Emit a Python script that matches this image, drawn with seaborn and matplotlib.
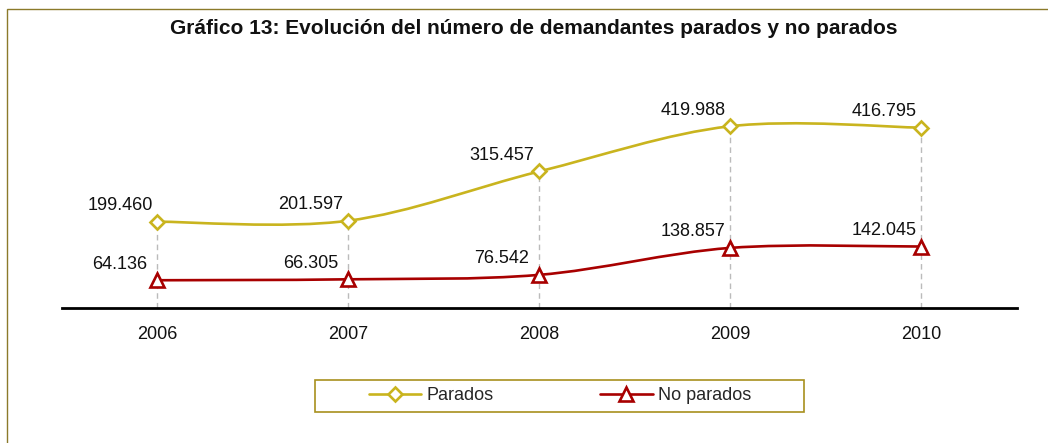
import numpy as np
import pandas as pd
import matplotlib
matplotlib.use("Agg")
import matplotlib.pyplot as plt
import seaborn as sns
from matplotlib.path import Path
from matplotlib.patches import PathPatch, Rectangle
from matplotlib.lines import Line2D

sns.set_theme(style="white")
plt.rcParams["font.family"] = ["Liberation Sans", "DejaVu Sans"]

# data
years = ["2006", "2007", "2008", "2009", "2010"]
parados = [199460, 201597, 315457, 419988, 416795]
no_parados = [64136, 66305, 76542, 138857, 142045]

col_par = "#C9B41E"
col_nop = "#A80000"


def smooth_path(xs, ys):
    # Excel-like smoothed line: Catmull-Rom segments as cubic Bezier
    pts = np.column_stack([xs, ys]).astype(float)
    ext = np.vstack([pts[0], pts, pts[-1]])
    verts = [pts[0]]
    codes = [Path.MOVETO]
    for i in range(len(pts) - 1):
        p0, p1, p2, p3 = ext[i], ext[i + 1], ext[i + 2], ext[i + 3]
        verts += [p1 + (p2 - p0) / 6, p2 - (p3 - p1) / 6, p2]
        codes += [Path.CURVE4] * 3
    return Path(verts, codes)


def fmt(v):
    return f"{v:,}".replace(",", ".")


df = pd.DataFrame({"x": np.arange(len(years)), "parados": parados, "no_parados": no_parados})

fig = plt.figure(figsize=(10.48, 4.43), dpi=100)
ax = fig.add_axes([61.5 / 1048, 135 / 443, 955 / 1048, 238 / 443])

ax.vlines(df["x"], 0, df["parados"], colors="#BBBBBB", linestyles=(0, (4, 3)), linewidth=1, zorder=1)

for col, color, marker, ms in [("parados", col_par, "D", 7.5), ("no_parados", col_nop, "^", 9.5)]:
    ax.add_patch(PathPatch(smooth_path(df["x"], df[col]), facecolor="none",
                           edgecolor=color, linewidth=1.9, zorder=2))
    sns.lineplot(data=df, x="x", y=col, ax=ax, linestyle="none", marker=marker,
                 markersize=ms, markerfacecolor="white", markeredgecolor=color,
                 markeredgewidth=1.9, color=color, zorder=3)
    for x, v in zip(df["x"], df[col]):
        ax.annotate(fmt(v), (x, v), xytext=(-37, 16), textcoords="offset pixels",
                    ha="center", va="center", fontsize=13, color="#111111")

ax.set_xlim(-0.5, len(years) - 0.5)
ax.set_ylim(0, 550000)
ax.set_xticks(df["x"])
ax.set_xticklabels(years, fontsize=13, color="#111111")
ax.set_yticks([])
ax.set_xlabel("")
ax.set_ylabel("")
ax.tick_params(axis="x", length=0, pad=13)
for s in ["top", "left", "right"]:
    ax.spines[s].set_visible(False)
ax.spines["bottom"].set_color("black")
ax.spines["bottom"].set_linewidth(2)
ax.patch.set_alpha(0)

fig.text(534 / 1048, 1 - 29 / 443, "Gráfico 13: Evolución del número de demandantes parados y no parados",
         ha="center", va="center", fontsize=15, fontweight="bold", color="#111111")

# outer frame and legend frame
fig.patches.append(Rectangle((7 / 1048, -0.1), 1.2, 1.1 - 9 / 443, transform=fig.transFigure,
                             fill=False, edgecolor="#8B7A2A", linewidth=1))
fig.patches.append(Rectangle((315 / 1048, 31 / 443), 489 / 1048, 32 / 443, transform=fig.transFigure,
                             fill=False, edgecolor="#A8901E", linewidth=1.2))

handles = [
    Line2D([], [], color=col_par, lw=1.9, marker="D", ms=7.5, mfc="white", mec=col_par, mew=1.9),
    Line2D([], [], color=col_nop, lw=1.9, marker="^", ms=9.5, mfc="white", mec=col_nop, mew=1.9),
]
fig.legend(handles, ["Parados", "No parados"], loc="center", bbox_to_anchor=(560 / 1048, 47 / 443),
           ncol=2, frameon=False, fontsize=13, handlelength=2.9, handletextpad=0.3,
           columnspacing=5.9)

fig.savefig("out.png", dpi=100)
